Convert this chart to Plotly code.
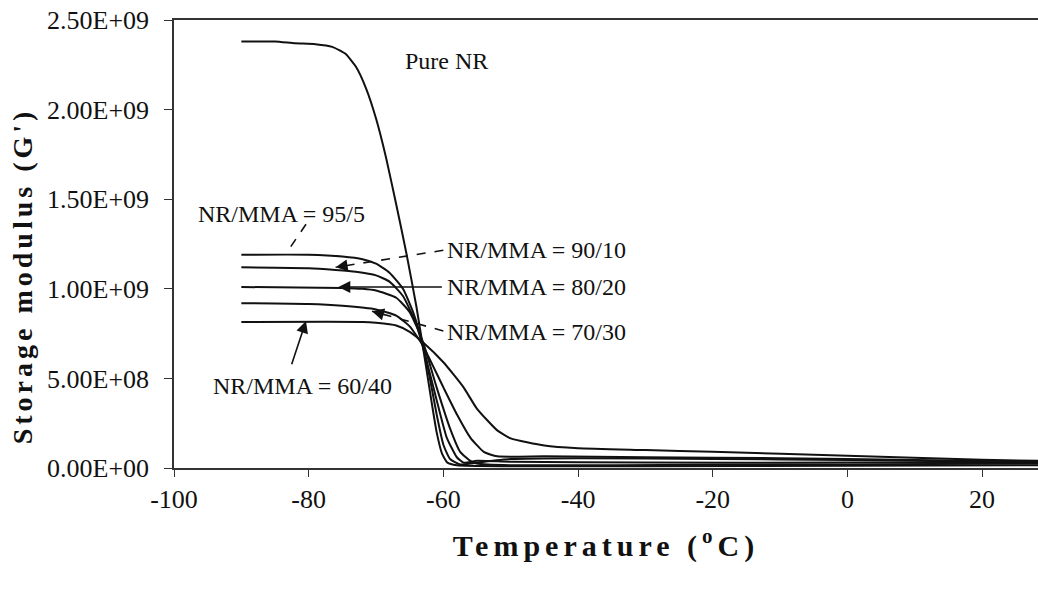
import plotly.graph_objects as go

# Temperature (°C) and storage modulus G' (Pa) for each sample
t_pure = [-90, -85, -82, -79, -76.5, -74.5, -73, -71.5, -70, -68.5, -67, -65.5, -64, -62.8, -61.8, -61, -60.2, -59.4, -58, -50, -30, 0, 28.3]
g_pure = [2.38e9, 2.38e9, 2.37e9, 2.365e9, 2.35e9, 2.31e9, 2.24e9, 2.12e9, 1.95e9, 1.73e9, 1.47e9, 1.2e9, 0.9e9, 0.62e9, 0.38e9, 0.2e9, 0.08e9, 0.03e9, 0.015e9, 0.01e9, 0.01e9, 0.012e9, 0.015e9]

t_95 = [-90, -80, -75, -72, -70, -68, -66, -64.5, -63, -62, -61, -60, -59, -57.5, -55, -50, -40, -20, 0, 20, 28.3]
g_95 = [1.19e9, 1.19e9, 1.18e9, 1.165e9, 1.14e9, 1.09e9, 1.0e9, 0.87e9, 0.68e9, 0.5e9, 0.3e9, 0.13e9, 0.05e9, 0.02e9, 0.03e9, 0.05e9, 0.055e9, 0.05e9, 0.045e9, 0.035e9, 0.03e9]

t_90 = [-90, -80, -76, -73, -70, -68, -66, -64, -62.5, -61, -59.5, -58, -57, -55, -50, -30, 0, 28.3]
g_90 = [1.12e9, 1.115e9, 1.105e9, 1.095e9, 1.075e9, 1.04e9, 0.96e9, 0.8e9, 0.6e9, 0.38e9, 0.17e9, 0.06e9, 0.03e9, 0.04e9, 0.035e9, 0.03e9, 0.03e9, 0.03e9]

t_80 = [-90, -75, -72, -70, -67, -65, -63, -61, -59, -57.5, -56, -55, -50, -20, 0, 28.3]
g_80 = [1.01e9, 1.005e9, 1.0e9, 0.99e9, 0.95e9, 0.87e9, 0.7e9, 0.45e9, 0.22e9, 0.09e9, 0.04e9, 0.025e9, 0.015e9, 0.018e9, 0.02e9, 0.025e9]

t_70 = [-90, -80, -75, -70, -67, -65, -63, -60, -58, -56, -54, -52, -45, -30, -10, 10, 28.3]
g_70 = [0.92e9, 0.915e9, 0.905e9, 0.885e9, 0.85e9, 0.79e9, 0.68e9, 0.45e9, 0.3e9, 0.17e9, 0.09e9, 0.065e9, 0.065e9, 0.06e9, 0.055e9, 0.045e9, 0.035e9]

t_60 = [-90, -72, -70, -67, -65, -63, -60, -57, -55, -52, -50, -45, -40, -30, -20, 0, 20, 28.3]
g_60 = [0.815e9, 0.815e9, 0.81e9, 0.795e9, 0.76e9, 0.7e9, 0.59e9, 0.45e9, 0.33e9, 0.21e9, 0.165e9, 0.125e9, 0.11e9, 0.1e9, 0.09e9, 0.068e9, 0.046e9, 0.04e9]

x_ticks = [-100, -80, -60, -40, -20, 0, 20]
x_tick_text = ["-100", "-80", "-60", "-40", "-20", "0", "20"]
y_ticks = [0, 0.5e9, 1.0e9, 1.5e9, 2.0e9, 2.5e9]
y_tick_text = ["0.00E+00", "5.00E+08", "1.00E+09", "1.50E+09", "2.00E+09", "2.50E+09"]

FONT = "Liberation Serif, Times New Roman, serif"
INK = "#111111"

fig = go.Figure()
for t, g in [(t_pure, g_pure), (t_95, g_95), (t_90, g_90), (t_80, g_80), (t_70, g_70), (t_60, g_60)]:
    fig.add_trace(go.Scatter(x=t, y=g, mode="lines",
                             line=dict(color=INK, width=2, shape="spline", smoothing=0.5),
                             showlegend=False, hoverinfo="skip"))

annotations = []
shapes = []

def label(text, x, y):
    annotations.append(dict(x=x, y=y, xref="x", yref="y", text=text, showarrow=False,
                            xanchor="left", yanchor="middle",
                            font=dict(family=FONT, size=24, color=INK)))

def arrow(tail, tip, dashed=False):
    if dashed:
        shapes.append(dict(type="line", xref="x", yref="y", x0=tail[0], y0=tail[1],
                           x1=tip[0], y1=tip[1], line=dict(color=INK, width=1.6, dash="dash")))
        # short solid stub so only the head is drawn at the tip
        ax = tip[0] + (tail[0] - tip[0]) * 0.08
        ay = tip[1] + (tail[1] - tip[1]) * 0.08
    else:
        ax, ay = tail
    annotations.append(dict(x=tip[0], y=tip[1], ax=ax, ay=ay, xref="x", yref="y",
                            axref="x", ayref="y", text="", showarrow=True,
                            arrowhead=2, arrowsize=1.5, arrowwidth=1.6, arrowcolor=INK))

label("Pure NR", -66, 2.27e9)
label("NR/MMA = 95/5", -96.8, 1.42e9)
label("NR/MMA = 90/10", -59.8, 1.215e9)
label("NR/MMA = 80/20", -59.8, 1.01e9)
label("NR/MMA = 70/30", -59.8, 0.76e9)
label("NR/MMA = 60/40", -94.5, 0.46e9)

arrow((-80.4, 1.36e9), (-83.3, 1.20e9), dashed=True)
arrow((-60.0, 1.215e9), (-76.0, 1.12e9), dashed=True)
arrow((-60.0, 1.01e9), (-75.6, 1.01e9))
arrow((-60.0, 0.765e9), (-70.6, 0.875e9), dashed=True)
arrow((-82.6, 0.57e9), (-80.4, 0.82e9))

# y-axis title placed as a rotated label to the left of the tick labels
annotations.append(dict(xref="paper", yref="paper", x=-0.176, y=0.43,
                        text='<b><span style="letter-spacing:4px">Storage modulus (G\')</span></b>',
                        textangle=-90, showarrow=False, xanchor="center", yanchor="middle",
                        font=dict(family=FONT, size=28, color=INK)))

fig.update_layout(
    width=1038, height=590,
    margin=dict(l=174, r=0, t=20, b=122),
    paper_bgcolor="white", plot_bgcolor="white",
    font=dict(family=FONT, size=24, color=INK),
    annotations=annotations, shapes=shapes,
    xaxis=dict(range=[-100, 28.3], tickvals=x_ticks, ticktext=x_tick_text,
               ticks="outside", ticklen=7, tickcolor="#333333",
               showline=True, linecolor="#333333", linewidth=1.5,
               mirror=True, showgrid=False, zeroline=False,
               tickfont=dict(family=FONT, size=26),
               title=dict(text='<b><span style="letter-spacing:5px">Temperature (<sup>o</sup>C)</span></b>',
                          standoff=22, font=dict(family=FONT, size=30))),
    yaxis=dict(range=[0, 2.5e9], tickvals=y_ticks, ticktext=y_tick_text,
               ticks="outside", ticklen=8, tickcolor="#333333", ticklabelstandoff=10,
               showline=True, linecolor="#333333", linewidth=1.5,
               showgrid=False, zeroline=False,
               tickfont=dict(family=FONT, size=26)),
)

fig.write_html("out.html")
